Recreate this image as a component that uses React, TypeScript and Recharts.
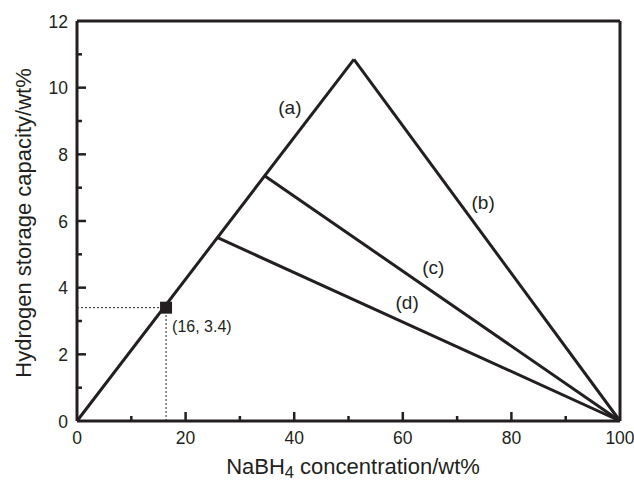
import React from "react";
import {
  LineChart,
  Line,
  XAxis,
  YAxis,
  ReferenceLine,
  ReferenceDot,
  Scatter,
} from "recharts";

// Capacity lines (wt% NaBH4 vs wt% H2)
const lineA = [
  { x: 0, y: 0 },
  { x: 51, y: 10.85 },
];
const lineB = [
  { x: 51, y: 10.85 },
  { x: 100, y: 0 },
];
const lineC = [
  { x: 34.6, y: 7.35 },
  { x: 100, y: 0 },
];
const lineD = [
  { x: 25.9, y: 5.5 },
  { x: 100, y: 0 },
];

const marker = [{ x: 16.4, y: 3.4 }];
const markerText = "(16, 3.4)";

const curveLabels = [
  { text: "(a)", x: 39.2, y: 9.4 },
  { text: "(b)", x: 74.8, y: 6.55 },
  { text: "(c)", x: 65.6, y: 4.6 },
  { text: "(d)", x: 60.8, y: 3.55 },
];

const xTicks = [0, 10, 20, 30, 40, 50, 60, 70, 80, 90, 100];
const yTicks = [0, 1, 2, 3, 4, 5, 6, 7, 8, 9, 10, 11, 12];

const INK = "#231f20";
const FONT = "'Liberation Sans', Arial, sans-serif";

// chart layout (px)
const W = 634;
const H = 483;
const M = { top: 21, right: 14, bottom: 0, left: 17 };
const Y_AXIS_W = 60;
const X_AXIS_H = 62;
const PLOT_LEFT = M.left + Y_AXIS_W;
const PLOT_BOTTOM = H - M.bottom - X_AXIS_H;

// inward tick marks, label only on the majors
const XTick = (props: any) => {
  const { x, payload } = props;
  const v = payload.value;
  const major = v % 20 === 0;
  return (
    <g>
      {v !== 0 && v !== 100 && (
        <line
          x1={x}
          x2={x}
          y1={PLOT_BOTTOM}
          y2={PLOT_BOTTOM - (major ? 9 : 5)}
          stroke={INK}
          strokeWidth={2.5}
        />
      )}
      {major && (
        <text x={x} y={PLOT_BOTTOM + 23} textAnchor="middle" fontSize={17.5} fill={INK} fontFamily={FONT}>
          {v}
        </text>
      )}
    </g>
  );
};

const YTick = (props: any) => {
  const { y, payload } = props;
  const v = payload.value;
  const major = v % 2 === 0;
  return (
    <g>
      {v !== 0 && v !== 12 && (
        <line
          x1={PLOT_LEFT}
          x2={PLOT_LEFT + (major ? 9 : 5)}
          y1={y}
          y2={y}
          stroke={INK}
          strokeWidth={2.5}
        />
      )}
      {major && (
        <text x={PLOT_LEFT - 9} y={y + 6.5} textAnchor="end" fontSize={17.5} fill={INK} fontFamily={FONT}>
          {v}
        </text>
      )}
    </g>
  );
};

const XTitle = () => (
  <text x={353} y={474} textAnchor="middle" fontSize={22} fill={INK} fontFamily={FONT}>
    NaBH
    <tspan fontSize={16.5} dy={4}>4</tspan>
    <tspan dy={-4}> concentration/wt%</tspan>
  </text>
);

const YTitle = () => {
  const cx = 31;
  const cy = 223;
  return (
    <text
      x={cx}
      y={cy}
      transform={`rotate(-90 ${cx} ${cy})`}
      textAnchor="middle"
      fontSize={22}
      fill={INK}
      fontFamily={FONT}
    >
      Hydrogen storage capacity/wt%
    </text>
  );
};

const SquareShape = (props: any) => {
  const { cx, cy } = props;
  return <rect x={cx - 6} y={cy - 6} width={12} height={12} fill={INK} />;
};

export default function App() {
  const lineProps = {
    dataKey: "y",
    stroke: INK,
    strokeWidth: 3,
    dot: false,
    activeDot: false,
    isAnimationActive: false,
  };

  return (
    <div style={{ position: "absolute", left: 0, top: 0, background: "#fff" }}>
      <LineChart width={W} height={H} margin={M}>
        <XAxis
          type="number"
          dataKey="x"
          domain={[0, 100]}
          ticks={xTicks}
          interval={0}
          tick={<XTick />}
          tickLine={false}
          axisLine={{ stroke: INK, strokeWidth: 3 }}
          height={X_AXIS_H}
          allowDuplicatedCategory={false}
          label={<XTitle />}
        />
        <YAxis
          type="number"
          domain={[0, 12]}
          ticks={yTicks}
          interval={0}
          tick={<YTick />}
          tickLine={false}
          axisLine={{ stroke: INK, strokeWidth: 3 }}
          width={Y_AXIS_W}
          label={<YTitle />}
        />

        {/* frame top and right */}
        <ReferenceLine y={12} stroke={INK} strokeWidth={3} />
        <ReferenceLine x={100} stroke={INK} strokeWidth={3} />

        {/* dotted guides to the marker */}
        <ReferenceLine
          segment={[{ x: 0, y: marker[0].y }, { x: marker[0].x, y: marker[0].y }]}
          stroke={INK}
          strokeWidth={1}
          strokeDasharray="2 2"
        />
        <ReferenceLine
          segment={[{ x: marker[0].x, y: 0 }, { x: marker[0].x, y: marker[0].y }]}
          stroke={INK}
          strokeWidth={1}
          strokeDasharray="2 2"
        />

        <Line data={lineA} {...lineProps} />
        <Line data={lineB} {...lineProps} />
        <Line data={lineC} {...lineProps} />
        <Line data={lineD} {...lineProps} />

        <Scatter data={marker} dataKey="y" shape={<SquareShape />} isAnimationActive={false} />

        {curveLabels.map((l) => (
          <ReferenceDot
            key={l.text}
            x={l.x}
            y={l.y}
            r={0}
            stroke="none"
            label={{ value: l.text, position: "center", fontSize: 19, fill: INK, fontFamily: FONT }}
          />
        ))}
        <ReferenceDot
          x={23}
          y={2.85}
          r={0}
          stroke="none"
          label={{ value: markerText, position: "center", fontSize: 16, fill: INK, fontFamily: FONT }}
        />
      </LineChart>
    </div>
  );
}
